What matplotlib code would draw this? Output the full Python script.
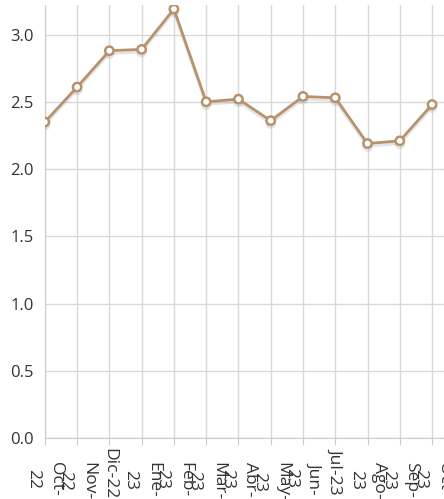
import matplotlib.pyplot as plt
import matplotlib.patheffects as pe

months = ['Oct-22', 'Nov-22', 'Dic-22', 'Ene-23', 'Feb-23', 'Mar-23', 'Abr-23',
          'May-23', 'Jun-23', 'Jul-23', 'Ago-23', 'Sep-23', 'Oct-23']
# labels as they are wrapped on the chart
tick_labels = ['Oct-\n22', 'Nov-\n22', 'Dic-22', 'Ene-\n23', 'Feb-\n23', 'Mar-\n23',
               'Abr-\n23', 'May-\n23', 'Jun-\n23', 'Jul-23', 'Ago-\n23', 'Sep-\n23',
               'Oct-\n23']
values = [2.35, 2.61, 2.88, 2.89, 3.19, 2.50, 2.52, 2.36, 2.54, 2.53, 2.19, 2.21, 2.48]

plt.rcParams['font.family'] = ['Open Sans', 'DejaVu Sans']

fig = plt.figure(figsize=(4.44, 4.99), dpi=100)
ax = fig.add_axes([0.101, 0.122, 0.899, 0.868])

x = list(range(len(values)))
ax.plot(x, values, color='#b8926c', lw=2, marker='o', ms=6,
        mfc='white', mec='#b8926c', mew=1.8, zorder=3,
        path_effects=[pe.SimpleLineShadow(offset=(0, -2), shadow_color='#999999', alpha=0.25),
                      pe.Normal()])

ax.set_xlim(0, 12.37)
ax.set_ylim(0, 3.22)
ax.set_yticks([0, 0.5, 1.0, 1.5, 2.0, 2.5, 3.0])
ax.set_yticklabels(['0.0', '0.5', '1.0', '1.5', '2.0', '2.5', '3.0'])
ax.set_xticks(x)
ax.set_xticklabels(tick_labels, rotation=-90, va='top', ha='center',
                   linespacing=1.6)
for t, lab in zip(ax.xaxis.get_major_ticks(), tick_labels):
    t.set_pad(12 if '\n' in lab else 2)

ax.grid(True, color='#d9d9d9', lw=1)
ax.set_axisbelow(True)
for s in ['top', 'right']:
    ax.spines[s].set_visible(False)
for s in ['left', 'bottom']:
    ax.spines[s].set_color('#cccccc')
ax.tick_params(axis='y', length=0, labelsize=12, colors='#333333', pad=8)
ax.tick_params(axis='x', length=5, color='#cccccc', labelsize=12.5, labelcolor='#333333')

fig.savefig('out.png', dpi=100)
